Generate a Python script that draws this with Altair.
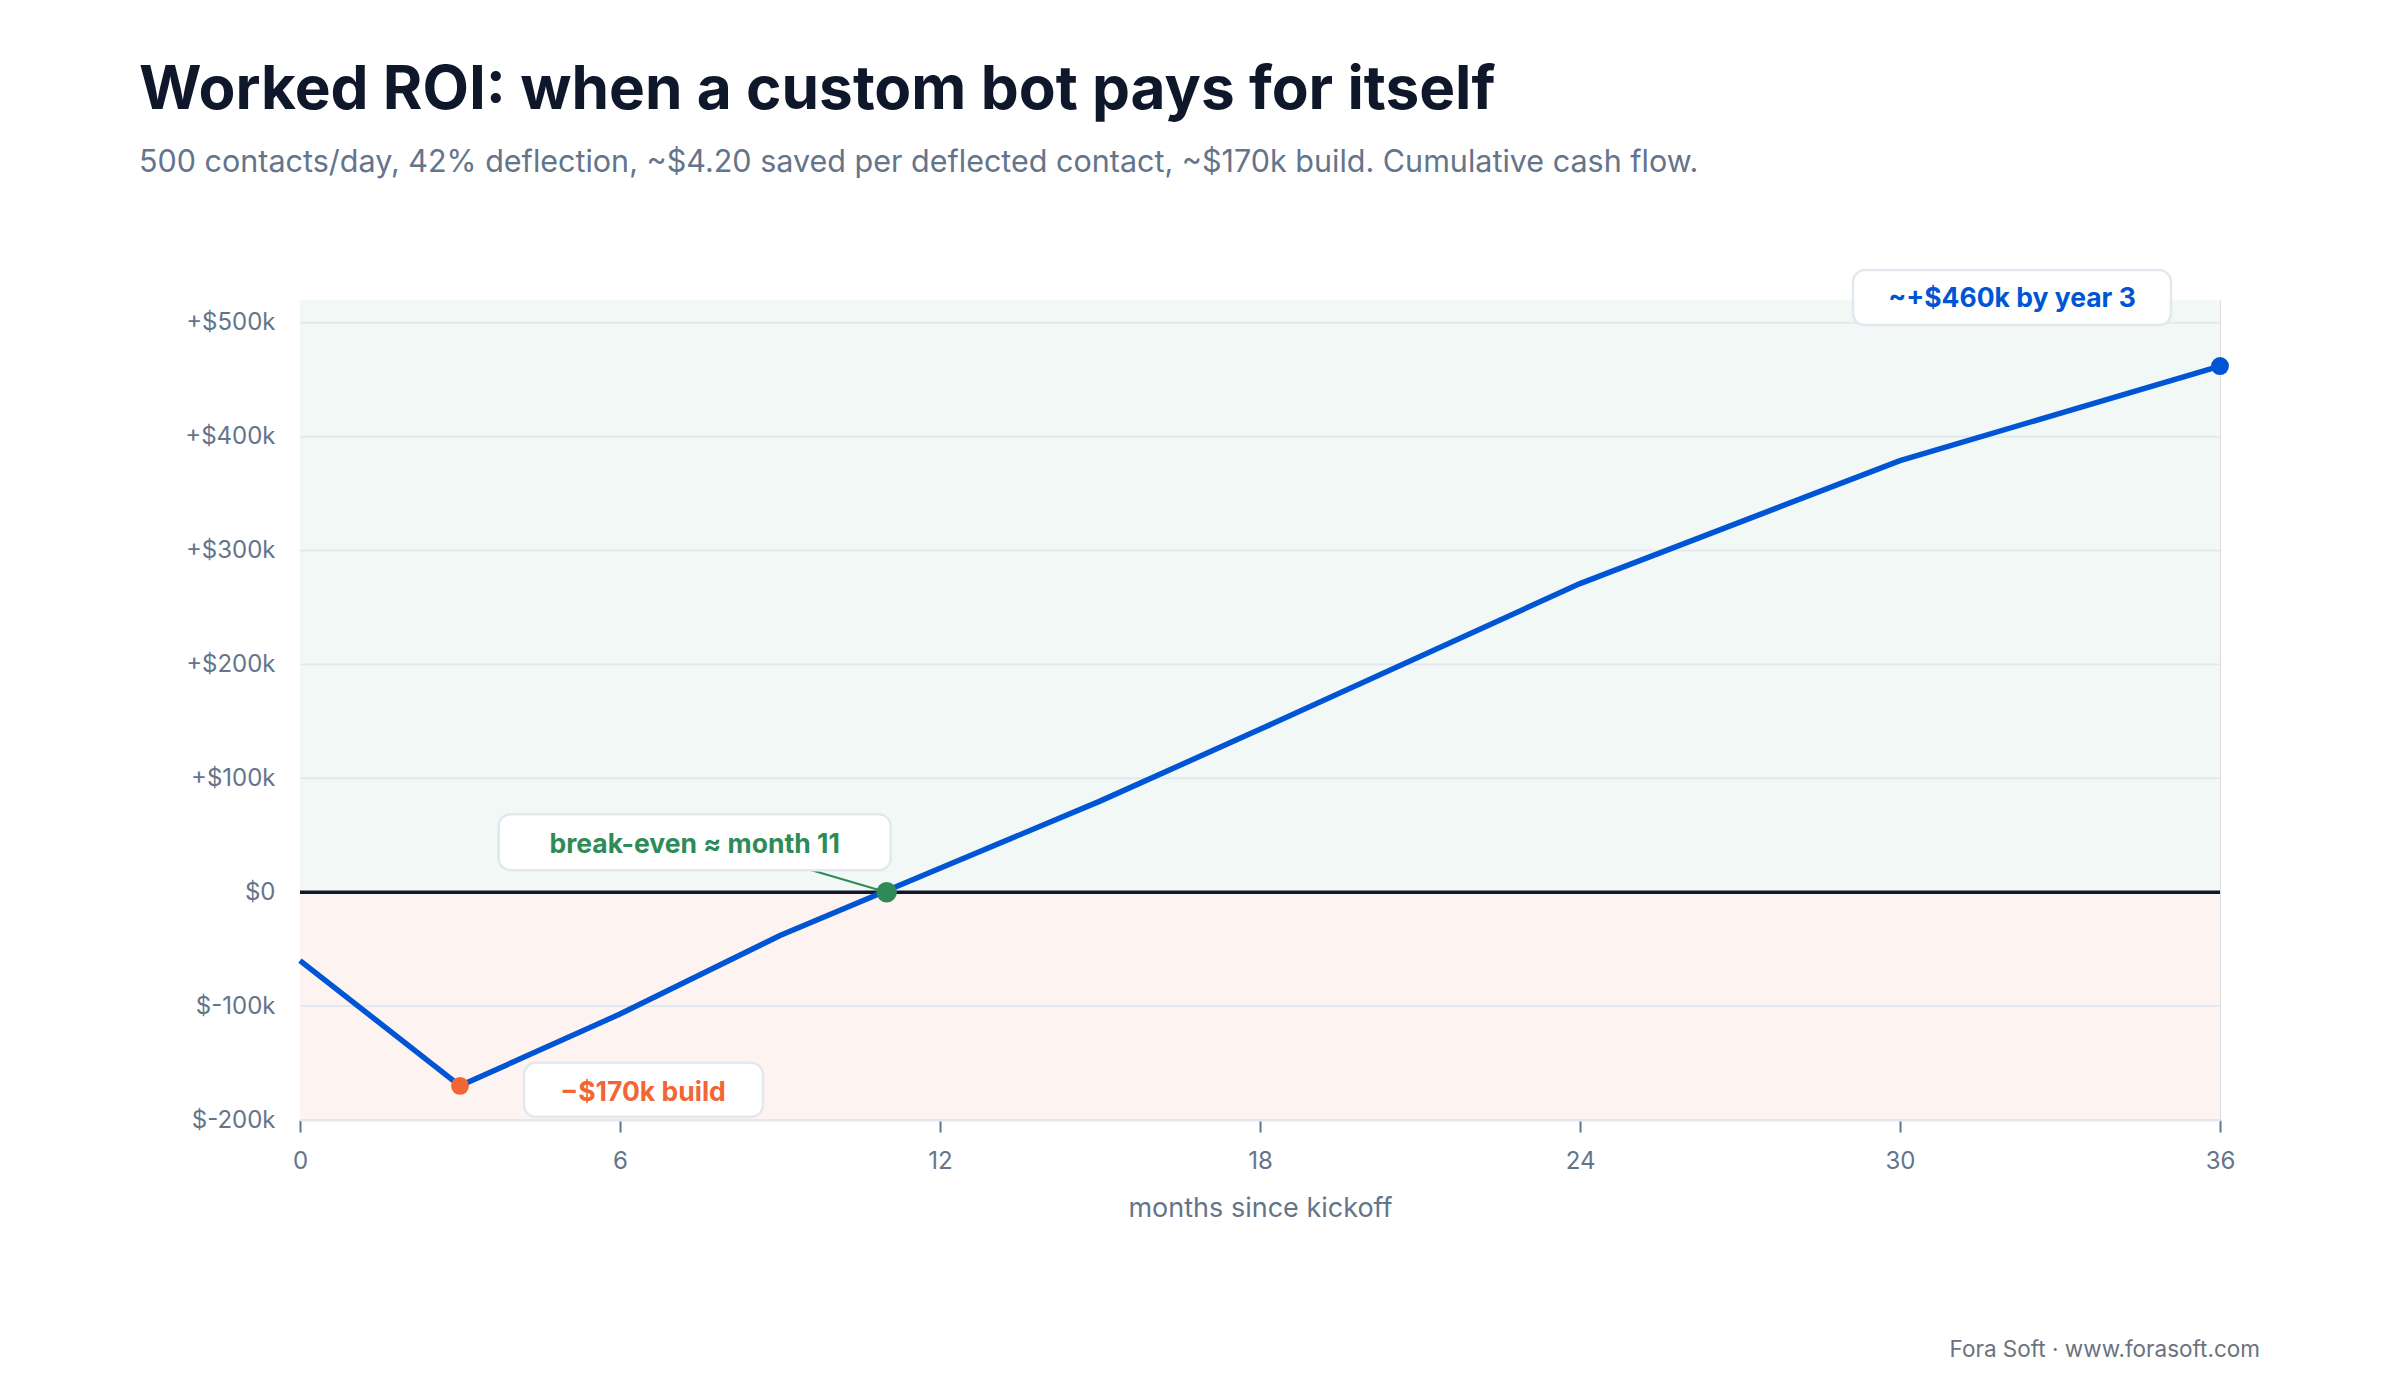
"""Worked ROI chart: cumulative cash flow of a custom support bot."""
import altair as alt
import pandas as pd

# cumulative cash flow (USD)
MONTHS = [0, 3, 6, 9, 12, 15, 18, 24, 30, 36]
CASH = [-60000, -170000, -107000, -38000, 21000, 80000, 143000, 271000, 379000, 462000]

X_TICKS = [0, 6, 12, 18, 24, 30, 36]
Y_TICKS = [-200000, -100000, 0, 100000, 200000, 300000, 400000, 500000]
Y_MIN, Y_MAX = -200000, 520000

NOTE_MONTHS = [3, 11, 36]
NOTE_VALUES = [-170000, 0, 462000]
NOTE_LABELS = ["−$170k build", "break-even ≈ month 11", "~+$460k by year 3"]
NOTE_COLORS = ["#f26534", "#2e8b57", "#0055d4"]

TITLE = "Worked ROI: when a custom bot pays for itself"
SUBTITLE = ("500 contacts/day, 42% deflection, ~$4.20 saved per deflected contact, "
            "~$170k build. Cumulative cash flow.")
FOOTER = "Fora Soft · www.forasoft.com"

FONT = "Inter"
SLATE = "#64748b"
LINE_BLUE = "#0055d4"
W, H = 1920, 820

# box / label / dot placement for each annotated point, in pixels
_NOTE_STYLE = {
    "−$170k build": dict(box=(64, 303, -23, 31), text=(183, 7), size=320),
    "break-even ≈ month 11": dict(box=(-388, 4, -78, -22), text=(-192, -47), size=420),
    "~+$460k by year 3": dict(box=(-367, -49, -96, -41), text=(-208, -67), size=320),
}

cash = pd.DataFrame({"month": MONTHS, "cash": CASH})
notes = pd.DataFrame({
    "month": NOTE_MONTHS, "value": NOTE_VALUES,
    "label": NOTE_LABELS, "color": NOTE_COLORS,
})

x_scale = alt.Scale(domain=[0, 36], nice=False)
y_scale = alt.Scale(domain=[Y_MIN, Y_MAX], nice=False, zero=False)

y_label_expr = (
    "datum.value > 0 ? '+$' + datum.value / 1000 + 'k' : "
    "(datum.value == 0 ? '$0' : '$' + datum.value / 1000 + 'k')"
)
x_axis = alt.Axis(values=X_TICKS, grid=False, domainColor="#e2e8f0",
                  domainWidth=2, tickColor=SLATE, tickSize=12, tickWidth=2,
                  labelFont=FONT, labelFontSize=24, labelColor=SLATE, labelFlush=False,
                  labelPadding=17, titleFont=FONT, titleFontSize=27,
                  titleColor=SLATE, titleFontWeight="normal", titlePadding=22)
y_axis = alt.Axis(values=Y_TICKS, grid=False, domain=False, ticks=False,
                  labelExpr=y_label_expr, labelFont=FONT, labelFontSize=24,
                  labelColor=SLATE, labelPadding=25, labelFlush=False)
X_TITLE = "months since kickoff"


def _x(field):
    return alt.X(field, scale=x_scale, axis=x_axis, title=X_TITLE)


def _y(field):
    return alt.Y(field, scale=y_scale, axis=y_axis, title=None)


bands = (
    alt.Chart(pd.DataFrame({
        "x0": [0, 0], "x1": [36, 36],
        "lo": [Y_MIN, 0], "hi": [0, Y_MAX], "fill": ["#fdf4f1", "#f2f8f6"],
    }))
    .mark_rect()
    .encode(x=_x("x0:Q"), x2="x1", y=_y("lo:Q"), y2="hi",
            color=alt.Color("fill:N", scale=None))
)

grid = (
    alt.Chart(pd.DataFrame({"v": Y_TICKS}))
    .mark_rule(color="#e2e8f0", strokeWidth=2)
    .encode(y=_y("v:Q"))
)

zero = (
    alt.Chart(pd.DataFrame({"v": [0]}))
    .mark_rule(color="#0f172a", strokeWidth=3.5)
    .encode(y=_y("v:Q"))
)

line = (
    alt.Chart(cash)
    .mark_line(color=LINE_BLUE, strokeWidth=5.5)
    .encode(x=_x("month:Q"), y=_y("cash:Q"))
)

layers = [bands, grid, zero]

# leader from the break-even dot up to its label box
be = _NOTE_STYLE["break-even ≈ month 11"]["box"]
layers.append(
    alt.Chart(notes[notes["month"] == 11])
    .mark_rule(color="#2e8b57", strokeWidth=2, x2Offset=-75, y2Offset=be[3])
    .encode(x=_x("month:Q"), x2="month", y=_y("value:Q"), y2="value")
)

layers.append(line)

for label, style in _NOTE_STYLE.items():
    row = notes[notes["label"] == label]
    color = row["color"].iloc[0]
    x0, x1, y0, y1 = style["box"]
    dx, dy = style["text"]
    box = (
        alt.Chart(row)
        .mark_rect(fill="white", stroke="#e2e8f0", strokeWidth=2.5, cornerRadius=12,
                   xOffset=x0, x2Offset=x1, yOffset=y0, y2Offset=y1)
        .encode(x=_x("month:Q"), x2="month", y=_y("value:Q"), y2="value")
    )
    text = (
        alt.Chart(row)
        .mark_text(font=FONT, fontSize=26.5, fontWeight="bold", dx=dx, dy=dy,
                   align="center", baseline="middle", color=color)
        .encode(x=_x("month:Q"), y=_y("value:Q"), text="label:N")
    )
    dot = (
        alt.Chart(row)
        .mark_circle(opacity=1, color=color, size=style["size"])
        .encode(x=_x("month:Q"), y=_y("value:Q"))
    )
    layers += [box, text, dot]

footer = (
    alt.Chart(pd.DataFrame({"t": [FOOTER]}))
    .mark_text(font=FONT, fontSize=22.5, color="#6b7280", align="right", baseline="alphabetic")
    .encode(text="t:N", x=alt.value(1960), y=alt.value(1057))
)
layers.append(footer)

chart = (
    alt.layer(*layers)
    .properties(
        width=W,
        height=H,
        autosize=alt.AutoSizeParams(type="none"),
        padding={"left": 292, "top": 292, "right": 172, "bottom": 272},
        title=alt.TitleParams(
            text=TITLE, subtitle=SUBTITLE, anchor="start", frame="group", dx=-161,
            offset=90, font=FONT, fontSize=60.3, fontWeight="bold", color="#0f172a",
            subtitleFont=FONT, subtitleFontSize=30.5, subtitleColor=SLATE,
            subtitlePadding=27,
        ),
    )
    .configure_view(stroke=None)
    .configure(background="white")
)

chart.save("out.html", embed_options={"renderer": "svg", "actions": False})
